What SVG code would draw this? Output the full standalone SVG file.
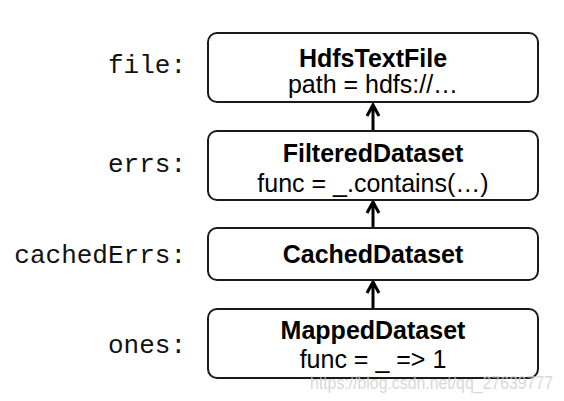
<svg xmlns="http://www.w3.org/2000/svg" width="564" height="401" viewBox="0 0 564 401">
<style>
.box{fill:#fff;stroke:#1a1a1a;stroke-width:2}
.t{font-family:"Liberation Sans",Arial,sans-serif;font-size:25px;fill:#000;text-anchor:middle}
.b{font-weight:bold}
.lbl{font-family:"Liberation Mono","Courier New",monospace;font-size:26px;fill:#111;text-anchor:end}
.conn{stroke:#000;stroke-width:3;fill:none}
.wm{font-family:"Liberation Sans",Arial,sans-serif;font-size:18px;fill:#d0d0d0;opacity:0.8}
</style>
<g id="labels">
<text class="lbl" x="186" y="73">file:</text>
<text class="lbl" x="186" y="172">errs:</text>
<text class="lbl" x="186" y="263">cachedErrs:</text>
<text class="lbl" x="186" y="353">ones:</text>
</g>
<g id="connectors">
<path class="conn" d="M373 131 V105 M367 116 L373 105 L379 116"/>
<path class="conn" d="M373 228 V202 M367 213 L373 202 L379 213"/>
<path class="conn" d="M373 309 V282 M367 293 L373 282 L379 293"/>
</g>
<g id="node-hdfs">
<rect class="box" x="208" y="33" width="330" height="69" rx="9"/>
<text class="t b" x="373" y="67">HdfsTextFile</text>
<text class="t" x="373" y="93">path = hdfs://…</text>
</g>
<g id="node-filtered">
<rect class="box" x="208" y="131" width="330" height="69" rx="9"/>
<text class="t b" x="373" y="162">FilteredDataset</text>
<text class="t" x="373" y="192">func = _.contains(…)</text>
</g>
<g id="node-cached">
<rect class="box" x="208" y="228" width="330" height="52" rx="9"/>
<text class="t b" x="373" y="263">CachedDataset</text>
</g>
<g id="node-mapped">
<rect class="box" x="208" y="309" width="330" height="69" rx="9"/>
<text class="t b" x="373" y="339">MappedDataset</text>
<text class="t" x="373" y="368">func = _ =&gt; 1</text>
</g>
<text class="wm" x="310" y="389" textLength="243" lengthAdjust="spacingAndGlyphs">https://blog.csdn.net/qq_27639777</text>
</svg>
